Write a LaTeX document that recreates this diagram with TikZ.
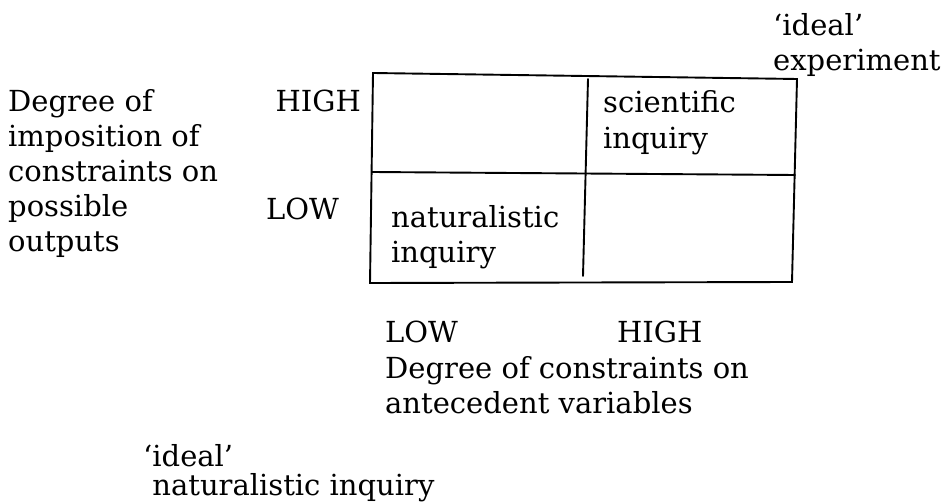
\documentclass[tikz,border=0pt]{standalone}
\usepackage{fontspec}
\setmainfont{DejaVu Serif}
\usetikzlibrary{positioning}

\tikzset{
    lbl/.style={anchor=base west, inner sep=0pt, align=left, font=\fontsize{29}{#1}\selectfont},
    lbl/.default=35,
    rule/.style={line width=1.9pt, line cap=round}
}

\begin{document}
\begin{tikzpicture}[x=1pt,y=-1pt]
        \useasboundingbox (0,0) rectangle (950,502);
        % grid corners
        \coordinate (tl) at (373,73);
        \coordinate (tr) at (797,79);
        \coordinate (br) at (792,282);
        \coordinate (bl) at (370,283);
        \coordinate (mt) at (588,79);
        \coordinate (mb) at (583,276);
        \coordinate (ml) at (372,172);
        \coordinate (mr) at (795,175);
        \draw[rule] (tl) -- (tr) -- (br) -- (bl) -- cycle;
        \draw[rule] (mt) -- (mb);
        \draw[rule] (ml) -- (mr);

        % multi-line nodes sit on the baseline of their last line
        \node[lbl] (ytitle) at (8,252) {Degree of\\imposition of\\constraints on\\possible\\outputs};
        \node[lbl, anchor=base east] (yhigh) at (361,112) {HIGH};
        \node[lbl] (ylow) at (266,220) {LOW};

        \node[lbl=36] (sci) at (603,149) {scientific\\inquiry};
        \node[lbl] (nat) at (391,263) {naturalistic\\inquiry};

        \node[lbl] (xlow) at (385,343) {LOW};
        \node[lbl] (xhigh) at (617,343) {HIGH};
        \node[lbl] (xtitle) at (385,413) {Degree of constraints on\\antecedent variables};

        \node[lbl] (idexp) at (773,71) {‘ideal’\\experiment};
        \node[lbl=29] (idnat) at (143,495) {‘ideal’\\\ naturalistic inquiry};
\end{tikzpicture}
\end{document}
